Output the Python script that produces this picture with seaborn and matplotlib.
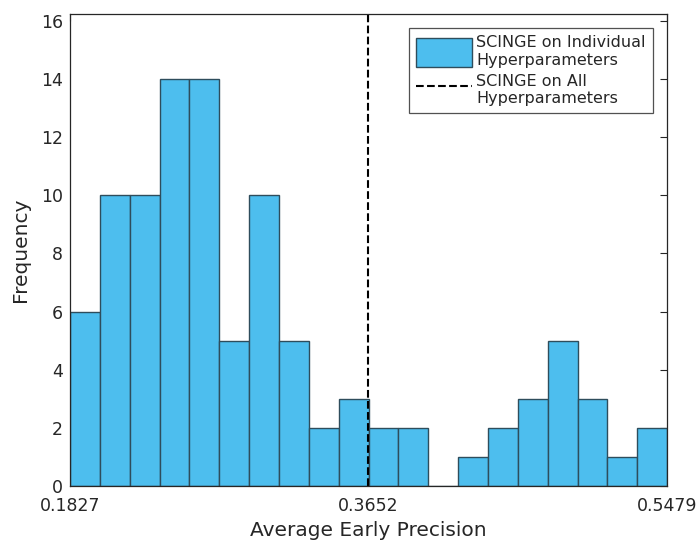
import numpy as np
import pandas as pd
import matplotlib
matplotlib.use("Agg")
import matplotlib.pyplot as plt
import seaborn as sns

# histogram counts (20 equal bins)
x_min = 0.1827
x_max = 0.5479
all_hyper_aep = 0.3652
counts = [6, 10, 10, 14, 14, 5, 10, 5, 2, 3, 2, 2, 0, 1, 2, 3, 5, 3, 1, 2]
tick_labels = ["0.1827", "0.3652", "0.5479"]

edges = np.linspace(x_min, x_max, len(counts) + 1)
df = pd.DataFrame({"aep": (edges[:-1] + edges[1:]) / 2, "n": counts})

sns.set_style("white")
plt.rcParams['font.family'] = ['DejaVu Sans']

fig = plt.figure(figsize=(7, 5.42), dpi=100)
ax = fig.add_axes([0.1, 0.103, 0.853, 0.872])

sns.histplot(data=df, x="aep", weights="n", bins=list(edges), ax=ax,
             color="#4DBEEE", alpha=1.0, edgecolor="#2e4d5c", linewidth=1.0,
             label="SCINGE on Individual\nHyperparameters")
ax.axvline(all_hyper_aep, color="black", linestyle="--", linewidth=1.5,
           label="SCINGE on All\nHyperparameters")

ax.set_xlim(x_min, x_max)
ax.set_ylim(0, 16.25)
ax.set_xticks([x_min, all_hyper_aep, x_max])
ax.set_xticklabels(tick_labels)
ax.set_yticks(range(0, 17, 2))

for s in ax.spines.values():
    s.set_color("#262626")
    s.set_linewidth(0.9)
ax.tick_params(direction="in", length=5, width=0.8, colors="#262626",
               labelsize=12.5, top=True, right=True)
ax.tick_params(axis="x", pad=8)
ax.tick_params(axis="y", pad=5)
ax.set_xlabel("Average Early Precision", fontsize=14.5, color="#262626", labelpad=4)
ax.set_ylabel("Frequency", fontsize=14.5, color="#262626", labelpad=8)

handles, labels = ax.get_legend_handles_labels()
order = [labels.index("SCINGE on Individual\nHyperparameters"),
         labels.index("SCINGE on All\nHyperparameters")]
leg = ax.legend([handles[i] for i in order], [labels[i] for i in order],
                loc="upper right", fontsize=11.5, frameon=True, fancybox=False,
                edgecolor="#262626", handlelength=3.5, handleheight=2.4,
                borderaxespad=0.9, labelspacing=0.4, handletextpad=0.25,
                borderpad=0.45)
leg.get_frame().set_linewidth(0.9)

fig.savefig("out.png", dpi=100)
